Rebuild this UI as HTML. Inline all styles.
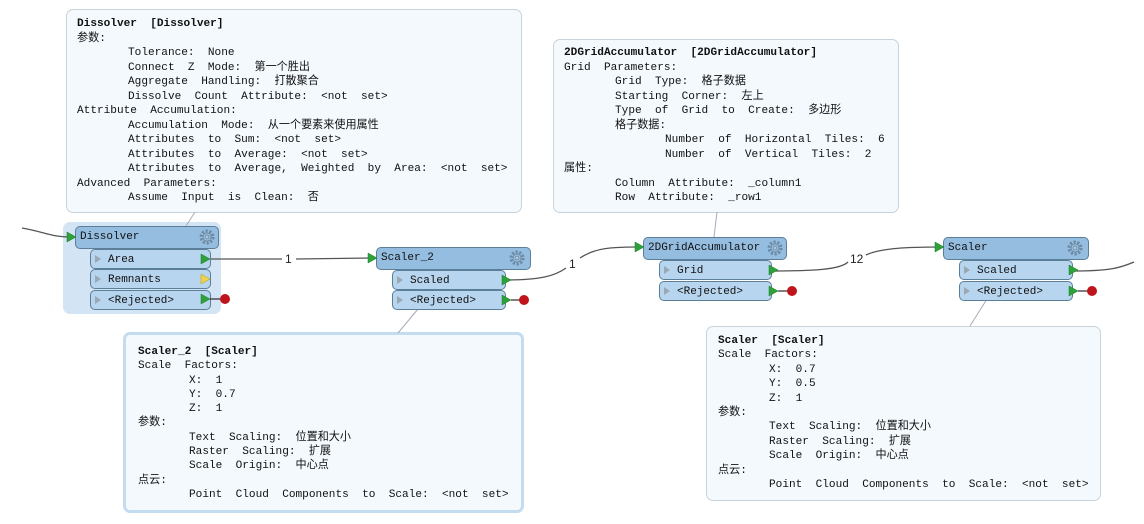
<!DOCTYPE html>
<html><head><meta charset="utf-8">
<style>
body{margin:0;width:1144px;height:524px;background:#fff;position:relative;overflow:hidden;font-family:"Liberation Mono","Noto Sans CJK SC",monospace;}
.ann{position:absolute;background:#f3f9fd;border:1px solid #c9d3da;border-radius:7px;box-sizing:border-box;}
.t{position:absolute;white-space:pre;font-size:11.1px;line-height:14px;color:#111;}
.t div{height:inherit;}
.i1{padding-left:51px;}
.i2{padding-left:101px;}
.b{font-weight:bold;}
.node{position:absolute;box-sizing:border-box;border:1px solid #5b7e99;border-radius:5px;background:#95bde0;font-size:11px;line-height:20px;white-space:pre;color:#111;font-family:"Liberation Mono","Noto Sans CJK SC",monospace;}
.port{background:#b8d5ef;}
svg{position:absolute;left:0;top:0;}
</style></head><body>

<div class="ann" style="left:66px;top:9px;width:456px;height:204px;"></div>
<div class="ann" style="left:553px;top:39px;width:346px;height:174px;"></div>
<div class="ann" style="left:706px;top:326px;width:395px;height:175px;"></div>
<div class="ann" style="left:123px;top:332px;width:401px;height:181px;border:3px solid #c4dcf0;background:#f3f9fd;"></div>
<div style="position:absolute;left:63px;top:222px;width:158px;height:92px;background:#d3e5f5;border-radius:7px;"></div>

<svg width="1144" height="524">
 <g fill="none" stroke="#555" stroke-width="1.3">
  <path d="M22,228 C45,232 50,237 72,237"/>
  <path d="M210,259 L282,259 M296,259 L372,258"/>
  <path d="M505,280 C540,280 555,276 566,268 M580,258 C595,248 610,247 641,247"/>
  <path d="M771,271 C810,271 840,270 848,262 M866,255 C880,248 910,247 941,247"/>
  <path d="M1072,271 C1110,271 1120,268 1134,262"/>
 </g>
 <g stroke="#aab" stroke-width="1">
  <path d="M195,212 L186,226"/>
  <path d="M717,212 L714,237"/>
  <path d="M418,309 L398,333"/>
  <path d="M987,299 L970,326"/>
 </g>
</svg>

<div class="node" style="left:75px;top:226px;width:144px;height:23px;padding-left:4px;line-height:21px;">Dissolver</div>
<div class="node port" style="left:90px;top:249px;width:121px;height:20px;padding-left:17px;">Area</div>
<div class="node port" style="left:90px;top:269px;width:121px;height:20px;padding-left:17px;">Remnants</div>
<div class="node port" style="left:90px;top:290px;width:121px;height:20px;padding-left:17px;">&lt;Rejected&gt;</div>
<div class="node" style="left:376px;top:247px;width:155px;height:23px;padding-left:4px;line-height:21px;">Scaler_2</div>
<div class="node port" style="left:392px;top:270px;width:114px;height:20px;padding-left:17px;">Scaled</div>
<div class="node port" style="left:392px;top:290px;width:114px;height:20px;padding-left:17px;">&lt;Rejected&gt;</div>
<div class="node" style="left:643px;top:237px;width:144px;height:23px;padding-left:4px;line-height:21px;">2DGridAccumulator</div>
<div class="node port" style="left:659px;top:260px;width:113px;height:20px;padding-left:17px;">Grid</div>
<div class="node port" style="left:659px;top:281px;width:113px;height:20px;padding-left:17px;">&lt;Rejected&gt;</div>
<div class="node" style="left:943px;top:237px;width:146px;height:23px;padding-left:4px;line-height:21px;">Scaler</div>
<div class="node port" style="left:959px;top:260px;width:114px;height:20px;padding-left:17px;">Scaled</div>
<div class="node port" style="left:959px;top:281px;width:114px;height:20px;padding-left:17px;">&lt;Rejected&gt;</div>

<svg width="1144" height="524">
 <defs>
  <g id="gear"><circle r="6" fill="none" stroke="#6a8aa5" stroke-width="3" stroke-dasharray="2.2 1.6"/><circle r="4" fill="#a9c9e6" stroke="#6a8aa5" stroke-width="1"/><circle r="2" fill="none" stroke="#6a8aa5"/></g>
  <path id="in" d="M0,-5 L0,5 L9,0 Z" fill="#2ea23a" stroke="#1d7a28" stroke-width=".5"/>
  <path id="gp" d="M0,-4 L0,4 L6,0 Z" fill="#9aa8b4"/>
 </defs>
 <use href="#gear" x="207" y="237"/><use href="#gear" x="517" y="258"/><use href="#gear" x="775" y="248"/><use href="#gear" x="1075" y="248"/>
 <use href="#in" x="67" y="237"/><use href="#in" x="368" y="258"/><use href="#in" x="635" y="247"/><use href="#in" x="935" y="247"/>
 <use href="#in" x="201" y="259"/>
 <path d="M201,274 L201,284 L210,279 Z" fill="#f0d24a" stroke="#b09a20" stroke-width=".5"/>
 <use href="#in" x="201" y="299"/>
 <use href="#in" x="502" y="280"/><use href="#in" x="502" y="300"/>
 <use href="#in" x="769" y="270"/><use href="#in" x="769" y="291"/>
 <use href="#in" x="1069" y="270"/><use href="#in" x="1069" y="291"/>
 <g stroke="#333" stroke-width="1.3"><path d="M210,299 H222 M511,300 H522 M778,291 H789 M1078,291 H1089"/></g>
 <g fill="#c0141c"><circle cx="225" cy="299" r="5"/><circle cx="524" cy="300" r="5"/><circle cx="792" cy="291" r="5"/><circle cx="1092" cy="291" r="5"/></g>
 <g><use href="#gp" x="95" y="259"/><use href="#gp" x="95" y="279"/><use href="#gp" x="95" y="300"/>
 <use href="#gp" x="397" y="280"/><use href="#gp" x="397" y="300"/>
 <use href="#gp" x="664" y="270"/><use href="#gp" x="664" y="291"/>
 <use href="#gp" x="964" y="270"/><use href="#gp" x="964" y="291"/></g>
 <g font-family="Liberation Sans,sans-serif" font-size="12" fill="#222">
  <text x="285" y="263">1</text><text x="569" y="268">1</text><text x="850" y="263">12</text>
 </g>
</svg>

<div class="t" style="left:77px;top:17px;line-height:14.5px;"><div class="b">Dissolver  [Dissolver]</div><div>参数:</div><div class="i1">Tolerance:  None</div><div class="i1">Connect  Z  Mode:  第一个胜出</div><div class="i1">Aggregate  Handling:  打散聚合</div><div class="i1">Dissolve  Count  Attribute:  &lt;not  set&gt;</div><div>Attribute  Accumulation:</div><div class="i1">Accumulation  Mode:  从一个要素来使用属性</div><div class="i1">Attributes  to  Sum:  &lt;not  set&gt;</div><div class="i1">Attributes  to  Average:  &lt;not  set&gt;</div><div class="i1">Attributes  to  Average,  Weighted  by  Area:  &lt;not  set&gt;</div><div>Advanced  Parameters:</div><div class="i1">Assume  Input  is  Clean:  否</div></div>

<div class="t" style="left:564px;top:46px;line-height:14.5px;"><div class="b">2DGridAccumulator  [2DGridAccumulator]</div><div>Grid  Parameters:</div><div class="i1">Grid  Type:  格子数据</div><div class="i1">Starting  Corner:  左上</div><div class="i1">Type  of  Grid  to  Create:  多边形</div><div class="i1">格子数据:</div><div class="i2">Number  of  Horizontal  Tiles:  6</div><div class="i2">Number  of  Vertical  Tiles:  2</div><div>属性:</div><div class="i1">Column  Attribute:  _column1</div><div class="i1">Row  Attribute:  _row1</div></div>

<div class="t" style="left:138px;top:345px;line-height:14.3px;"><div class="b">Scaler_2  [Scaler]</div><div>Scale  Factors:</div><div class="i1">X:  1</div><div class="i1">Y:  0.7</div><div class="i1">Z:  1</div><div>参数:</div><div class="i1">Text  Scaling:  位置和大小</div><div class="i1">Raster  Scaling:  扩展</div><div class="i1">Scale  Origin:  中心点</div><div>点云:</div><div class="i1">Point  Cloud  Components  to  Scale:  &lt;not  set&gt;</div></div>

<div class="t" style="left:718px;top:334px;line-height:14.4px;"><div class="b">Scaler  [Scaler]</div><div>Scale  Factors:</div><div class="i1">X:  0.7</div><div class="i1">Y:  0.5</div><div class="i1">Z:  1</div><div>参数:</div><div class="i1">Text  Scaling:  位置和大小</div><div class="i1">Raster  Scaling:  扩展</div><div class="i1">Scale  Origin:  中心点</div><div>点云:</div><div class="i1">Point  Cloud  Components  to  Scale:  &lt;not  set&gt;</div></div>

</body></html>
